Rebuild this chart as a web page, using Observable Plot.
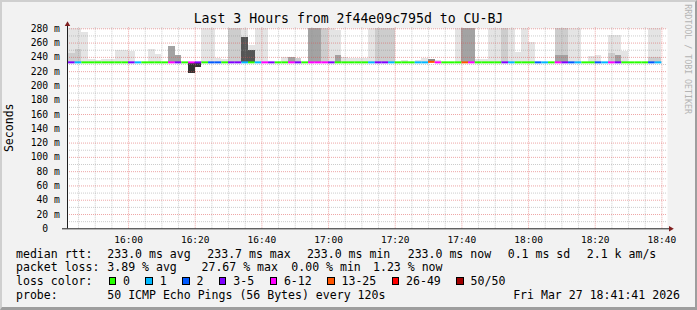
<!DOCTYPE html>
<html>
<head>
<meta charset="utf-8">
<script src="https://cdn.jsdelivr.net/npm/d3@7"></script>
<script src="https://cdn.jsdelivr.net/npm/@observablehq/plot@0.6"></script>
<style>
html,body{margin:0;padding:0;background:#f2f2f2;}
#wrap{position:relative;width:697px;height:310px;background:#f2f2f2;overflow:hidden;font-family:"DejaVu Sans Mono",monospace;color:#000;}
#border{position:absolute;left:0;top:0;width:697px;height:310px;box-sizing:border-box;border-top:2px solid #cfcfcf;border-left:2px solid #cfcfcf;border-right:2px solid #9e9e9e;border-bottom:3px solid #9e9e9e;pointer-events:none;}
#chart{position:absolute;left:0;top:0;}
.t{position:absolute;white-space:pre;line-height:1;}
.leg{font-size:11.55px;}
.sq{display:inline-block;width:7.5px;height:7.5px;box-sizing:border-box;border:1px solid #000;vertical-align:baseline;margin-right:6.9px;}
.ll{margin-right:15.4px;}
</style>
</head>
<body>
<div id="wrap">
  <div id="chart"></div>
  <div class="t" id="title" style="left:0;width:697px;text-align:center;top:12.3px;font-size:13.2px;"></div>
  <div class="t" id="ylab" style="left:-20px;top:122px;width:60px;text-align:center;font-size:11.55px;transform:rotate(-90deg);transform-origin:50% 50%;"></div>
  <div class="t" id="wm" style="left:632px;top:55px;width:112px;text-align:center;font-size:8.3px;color:#b4b4b4;transform:rotate(90deg);transform-origin:50% 50%;"></div>
  <div id="legend"></div>
  <div id="border"></div>
</div>
<script>
// ---------------- data ----------------
const titleText = "Last 3 Hours from 2f44e09c795d to CU-BJ";
const yAxisTitle = "Seconds";
const watermark = "RRDTOOL / TOBI OETIKER";

const domainStart = "2026-03-27T15:41:41Z";
const domainEnd = "2026-03-27T18:41:41Z";
const firstStep = "2026-03-27T15:42:00Z";
const stepSeconds = 120;

const xTickLabels = ["16:00","16:20","16:40","17:00","17:20","17:40","18:00","18:20","18:40"];
const yTickValues = [0,20,40,60,80,100,120,140,160,180,200,220,240,260,280];

// loss category per 2-minute step (index into lossLabels)
const lossCat = [
  3,1,0,0,0,0,0,0,0,3,
  1,0,0,0,0,4,3,0,4,3,
  0,2,2,0,3,3,1,0,1,4,
  3,0,0,4,3,0,4,4,4,3,
  0,0,0,0,0,1,3,3,1,0,
  0,0,1,1,5,4,0,0,0,5,
  4,0,0,0,0,3,1,0,0,0,
  2,1,0,4,3,2,1,0,0,2,
  1,4,3,0,0,0,0,2,1
];
// median rtt (ms) per step
const medianMs = [
  233.0,233.0,233.0,233.0,233.0,233.0,233.0,233.0,233.0,233.0,
  233.0,233.0,233.0,233.0,233.0,233.0,233.0,233.0,233.0,233.0,
  233.0,233.0,233.0,233.0,233.0,233.0,233.0,233.0,233.0,233.0,
  233.0,233.0,233.0,233.0,233.0,233.0,233.0,233.0,233.0,233.0,
  233.0,233.0,233.0,233.0,233.0,233.0,233.0,233.0,233.0,233.0,
  233.0,233.0,233.0,233.0,233.7,233.0,233.0,233.0,233.0,233.0,
  233.0,233.0,233.0,233.0,233.0,233.0,233.0,233.0,233.0,233.0,
  233.0,233.0,233.0,233.0,233.0,233.0,233.0,233.0,233.0,233.0,
  233.0,233.0,233.0,233.0,233.0,233.0,233.0,233.0,233.0
];
// outer smoke top (ms), null = none
const smokeMax = [
  280,280,275,237,236,237,237,250,250,248,
  null,null,251,244,null,255,243,null,null,null,
  280,280,239,237,280,280,280,257,280,280,
  null,null,240,240,238,null,280,280,280,280,
  277,240,239,239,238,280,280,280,280,null,
  236,null,236,238,237,236,null,null,280,280,
  280,237,237,280,280,280,280,247,280,261,
  null,null,null,280,280,280,280,null,241,243,
  null,270,270,248,null,null,null,280,280
];
// density of outer smoke (1 = few pings ... 4 = many)
const smokeMaxDensity = [
  1,1,1,1,1,1,1,1,1,1,
  0,0,1,1,0,3,3,0,0,0,
  1,1,1,1,2,2,1,1,1,1,
  0,0,1,3,2,0,3,3,2,1,
  1,1,1,1,1,1,2,2,2,0,
  1,0,1,1,4,1,0,0,1,3,
  3,1,1,1,1,2,1,1,1,1,
  0,0,0,2,2,1,1,0,1,1,
  0,1,1,1,0,0,0,1,1
];
// inner (denser) smoke top (ms)
const smokeCore = [
  245,251,null,null,null,null,null,null,null,null,
  null,null,null,null,null,null,null,null,null,null,
  null,null,null,null,null,null,268,249,null,null,
  null,null,null,null,null,null,null,null,null,null,
  242,null,null,null,null,null,null,null,null,null,
  null,null,null,null,null,null,null,null,null,null,
  null,null,null,null,null,null,null,null,null,null,
  null,null,null,242,242,null,null,null,null,null,
  null,245,242,null,null,null,null,240,240
];
const smokeCoreDensity = [
  2,2,0,0,0,0,0,0,0,0,
  0,0,0,0,0,0,0,0,0,0,
  0,0,0,0,0,0,5,5,0,0,
  0,0,0,0,0,0,0,0,0,0,
  3,0,0,0,0,0,0,0,0,0,
  0,0,0,0,0,0,0,0,0,0,
  0,0,0,0,0,0,0,0,0,0,
  0,0,0,3,3,0,0,0,0,0,
  0,2,3,0,0,0,0,2,2
];
// smoke below the median (ms)
const smokeLow = [
  null,null,null,null,null,null,null,null,null,null,
  null,null,null,null,null,null,null,null,218,226.5,
  null,null,null,null,null,null,null,null,null,null,
  null,null,null,null,null,null,null,null,null,null,
  null,null,null,null,null,null,null,null,null,null,
  null,null,null,null,null,null,null,null,null,null,
  null,null,null,null,null,null,null,null,null,null,
  null,null,null,null,null,null,null,null,null,null,
  null,null,null,null,null,null,null,null,null
];

const lossLabels = ["0","1","2","3-5","6-12","13-25","26-49","50/50"];
const lossColors = ["#26ff00","#00b8ff","#0059ff","#7e00ff","#ff00ff","#ff5500","#ff0000","#a10000"];

const rttLabel = "median rtt:";
const rttStats = ["233.0 ms avg","233.7 ms max","233.0 ms min","233.0 ms now","0.1 ms sd","2.1 k am/s"];
const lossLabel = "packet loss:";
const lossStats = ["3.89 % avg","27.67 % max","0.00 % min","1.23 % now"];
const lossColorLabel = "loss color:";
const probeLabel = "probe:";
const probeText = "50 ICMP Echo Pings (56 Bytes) every 120s";
const dateText = "Fri Mar 27 18:41:41 2026";

// ---------------- styles / layout ----------------
const smokeShade = ["none","#e4e4e4","#cdcdcd","#a3a3a3","#8a8a8a","#555555","#333333"];
const gridMinor = "#8f8f8f";
const gridMajor = "#de4f4f";
const arrowColor = "#801f1f";
const axisColor = "#1f1f1f";

// ---------------- build ----------------
const t0 = new Date(domainStart), t1 = new Date(domainEnd);
const s0 = new Date(firstStep).getTime();
const rows = lossCat.map((c, i) => ({
  start: new Date(s0 + i * stepSeconds * 1000),
  end: new Date(s0 + (i + 1) * stepSeconds * 1000),
  loss: c,
  median: medianMs[i],
  max: smokeMax[i], maxD: smokeMaxDensity[i],
  core: smokeCore[i], coreD: smokeCoreDensity[i],
  low: smokeLow[i]
}));

const xTicks = xTickLabels.map(s => new Date(`2026-03-27T${s}:00Z`));
const minorTimes = d3.utcMinute.every(5).range(t0, t1).filter(d => d.getUTCMinutes() % 20 !== 0);
const yMinor = d3.range(10, 280, 20);
const yMajor = yTickValues.filter(v => v > 0);

const chart = Plot.plot({
  width: 697, height: 245,
  marginLeft: 67, marginRight: 30, marginTop: 28.3, marginBottom: 16.7,
  style: {background: "transparent", fontFamily: "DejaVu Sans Mono", fontSize: "9.6px", color: "#000", overflow: "visible"},
  x: {type: "utc", domain: [t0, t1], label: null},
  y: {domain: [0, 280], label: null},
  marks: [
    Plot.frame({fill: "white", stroke: "none"}),
    Plot.rect(rows.filter(d => d.max != null), {x1: "start", x2: "end", y1: "median", y2: "max", fill: d => smokeShade[d.maxD], shapeRendering: "crispEdges"}),
    Plot.rect(rows.filter(d => d.core != null), {x1: "start", x2: "end", y1: "median", y2: "core", fill: d => smokeShade[d.coreD], shapeRendering: "crispEdges"}),
    Plot.rect(rows.filter(d => d.low != null), {x1: "start", x2: "end", y1: "low", y2: "median", fill: smokeShade[6], shapeRendering: "crispEdges"}),
    Plot.ruleX(minorTimes, {stroke: gridMinor, strokeOpacity: 0.45, strokeDasharray: "1,1", insetTop: -1}),
    Plot.ruleY(yMinor, {stroke: gridMinor, strokeOpacity: 0.45, strokeDasharray: "1,1"}),
    Plot.ruleY(yMajor, {stroke: gridMajor, strokeOpacity: 0.5, strokeDasharray: "1,1"}),
    Plot.ruleX(xTicks, {stroke: gridMajor, strokeOpacity: 0.5, strokeDasharray: "1,1", insetTop: -1}),
    Plot.ruleY(rows, {y: "median", x1: "start", x2: "end", stroke: d => lossColors[d.loss], strokeWidth: 2}),
    Plot.ruleX([t0], {stroke: axisColor, insetTop: -5}),
    Plot.ruleY([0], {stroke: axisColor, insetLeft: -5, insetRight: -2}),
    Plot.dot([t0], {x: d => d, y: () => 280, symbol: "triangle", r: 2.05, fill: arrowColor, stroke: "none", dy: -4.4}),
    Plot.dot([t1], {x: d => d, y: () => 0, symbol: "triangle", rotate: 90, r: 2.05, fill: arrowColor, stroke: "none", dx: 3.1}),
    Plot.axisX(xTicks, {tickSize: 0, tickPadding: 7, tickFormat: d3.utcFormat("%H:%M"), fontSize: 9.5, label: null}),
    Plot.axisY(yTickValues, {tickSize: 0, tickPadding: 7.7, tickFormat: d => d === 0 ? "0\u00a0\u00a0" : `${d} m`, fontSize: 9.7, label: null})
  ]
});
document.getElementById("chart").appendChild(chart);

document.getElementById("title").textContent = titleText;
document.getElementById("ylab").textContent = yAxisTitle;
document.getElementById("wm").textContent = watermark;

// legend
const legend = document.getElementById("legend");
function put(x, top, text, extra) {
  const d = document.createElement("div");
  d.className = "t leg";
  d.style.left = x + "px";
  d.style.top = top + "px";
  if (extra) Object.assign(d.style, extra);
  d.textContent = text;
  legend.appendChild(d);
  return d;
}
const lineTops = [248.5, 262.2, 275.9, 289.5];
const rttX = [107.3, 207.3, 306.9, 407.7, 507.7, 586.8];
const lossX = [107.3, 201.5, 291.3, 373];
put(16, lineTops[0], rttLabel);
rttStats.forEach((s, i) => put(rttX[i], lineTops[0], s));
put(16, lineTops[1], lossLabel);
lossStats.forEach((s, i) => put(lossX[i], lineTops[1], s));
put(16, lineTops[2], lossColorLabel);
const lc = put(108.7, lineTops[2], "");
lossLabels.forEach((lab, i) => {
  const sq = document.createElement("span");
  sq.className = "sq";
  sq.style.background = lossColors[i];
  const tx = document.createElement("span");
  tx.className = "ll";
  tx.textContent = lab;
  lc.appendChild(sq); lc.appendChild(tx);
});
put(16, lineTops[3], probeLabel);
put(107.3, lineTops[3], probeText);
put(0, lineTops[3], dateText, {left: "auto", right: "17px"});
</script>
</body>
</html>
